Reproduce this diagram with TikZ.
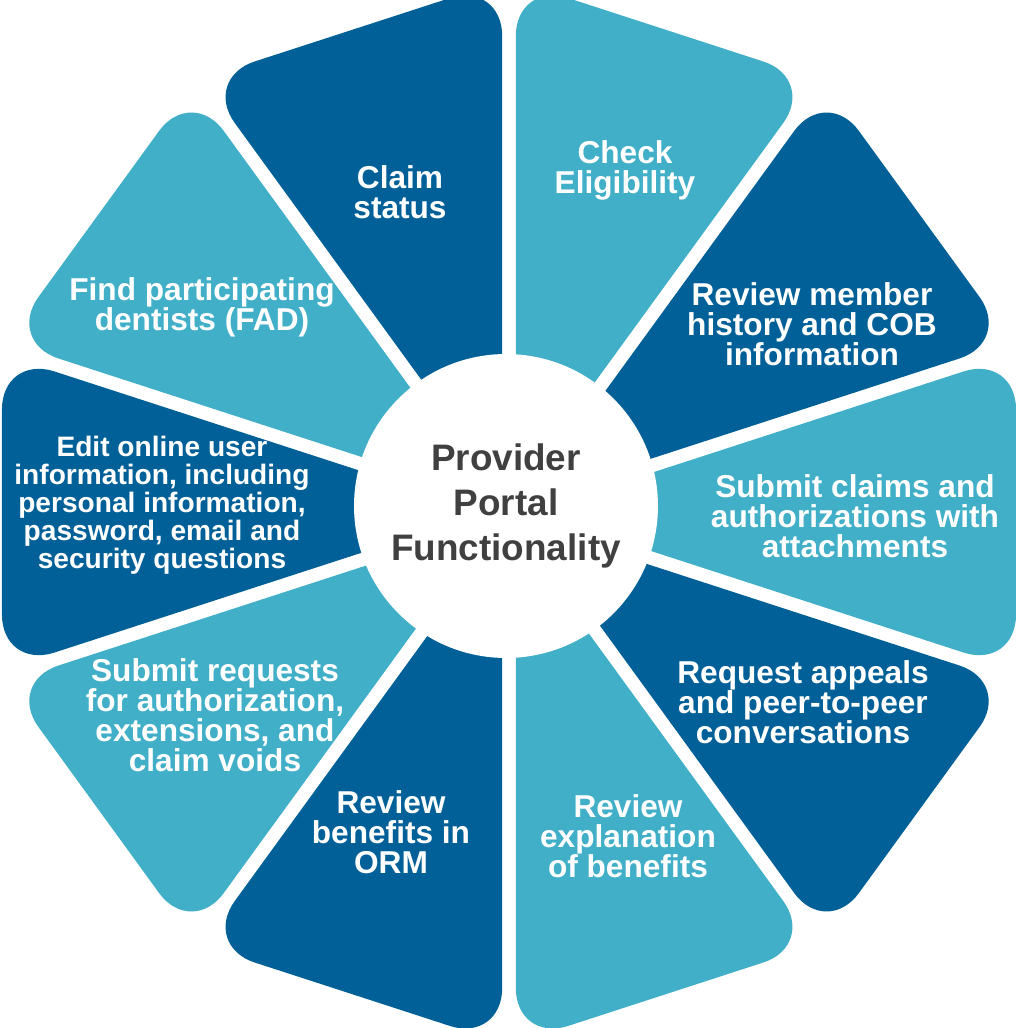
\documentclass[tikz,border=0pt]{standalone}
\usepackage{fontspec}
\setmainfont{Liberation Sans}

\definecolor{portalDark}{HTML}{006097}
\definecolor{portalLight}{HTML}{41AFC8}
\definecolor{portalText}{HTML}{404040}

\begin{document}
\begin{tikzpicture}[
        x=0.02cm, y=0.02cm, % одна единица = один пиксель
        sektor/.style={rounded corners=1.1cm}, % скругление внешних углов
        darkseg/.style={sektor, fill=portalDark},
        lightseg/.style={sektor, fill=portalLight},
        func/.style={text=white, align=center, font=\bfseries\fontsize{18}{17}\selectfont},
        hub/.style={circle, fill=white, minimum size=6.08cm, align=center,
                text=portalText, font=\bfseries\fontsize{21}{25.5}\selectfont},
    ]

    \useasboundingbox (-509,-516) rectangle (507,512);

    % сектора: треугольник от центра, сдвинутый наружу на 22
    \fill[darkseg, shift={(108:22)}] (0,0) -- (126:510) -- (90:510) -- cycle;
    \fill[lightseg, shift={(72:22)}] (0,0) -- (90:510) -- (54:510) -- cycle;
    \fill[darkseg, shift={(36:22)}] (0,0) -- (54:510) -- (18:510) -- cycle;
    \fill[lightseg, shift={(0:22)}] (0,0) -- (18:510) -- (-18:510) -- cycle;
    \fill[darkseg, shift={(-36:22)}] (0,0) -- (-18:510) -- (-54:510) -- cycle;
    \fill[lightseg, shift={(-72:22)}] (0,0) -- (-54:510) -- (-90:510) -- cycle;
    \fill[darkseg, shift={(-108:22)}] (0,0) -- (-90:510) -- (-126:510) -- cycle;
    \fill[lightseg, shift={(-144:22)}] (0,0) -- (-126:510) -- (-162:510) -- cycle;
    \fill[darkseg, shift={(180:22)}] (0,0) -- (-162:510) -- (162:510) -- cycle;
    \fill[lightseg, shift={(144:22)}] (0,0) -- (162:510) -- (126:510) -- cycle;

    % центральный круг
    \node[hub] (portal) at (-3,6) {Provider\\Portal\\Functionality};

    % подписи секторов
    \node[func] (claim) at (-109,320) {Claim\\status};
    \node[func] (elig) at (116,342) {Check\\Eligibility};
    \node[func] (history) at (303,188) {Review member\\history and COB\\information};
    \node[func] (submit) at (346,-4) {Submit claims and\\authorizations with\\attachments};
    \node[func] (appeals) at (294,-190) {Request appeals\\and peer-to-peer\\conversations};
    \node[func] (eob) at (119,-324) {Review\\explanation\\of benefits};
    \node[func] (orm) at (-118,-320) {Review\\benefits in\\ORM};
    \node[func] (requests) at (-294,-203) {Submit requests\\for authorization,\\extensions, and\\claim voids};
    \node[func, font=\bfseries\fontsize{16}{15.9}\selectfont] (userinfo) at (-347,7)
        {Edit online user\\information, including\\personal information,\\password, email and\\security questions};
    \node[func] (fad) at (-307,205) {Find participating\\dentists (FAD)};
\end{tikzpicture}
\end{document}
